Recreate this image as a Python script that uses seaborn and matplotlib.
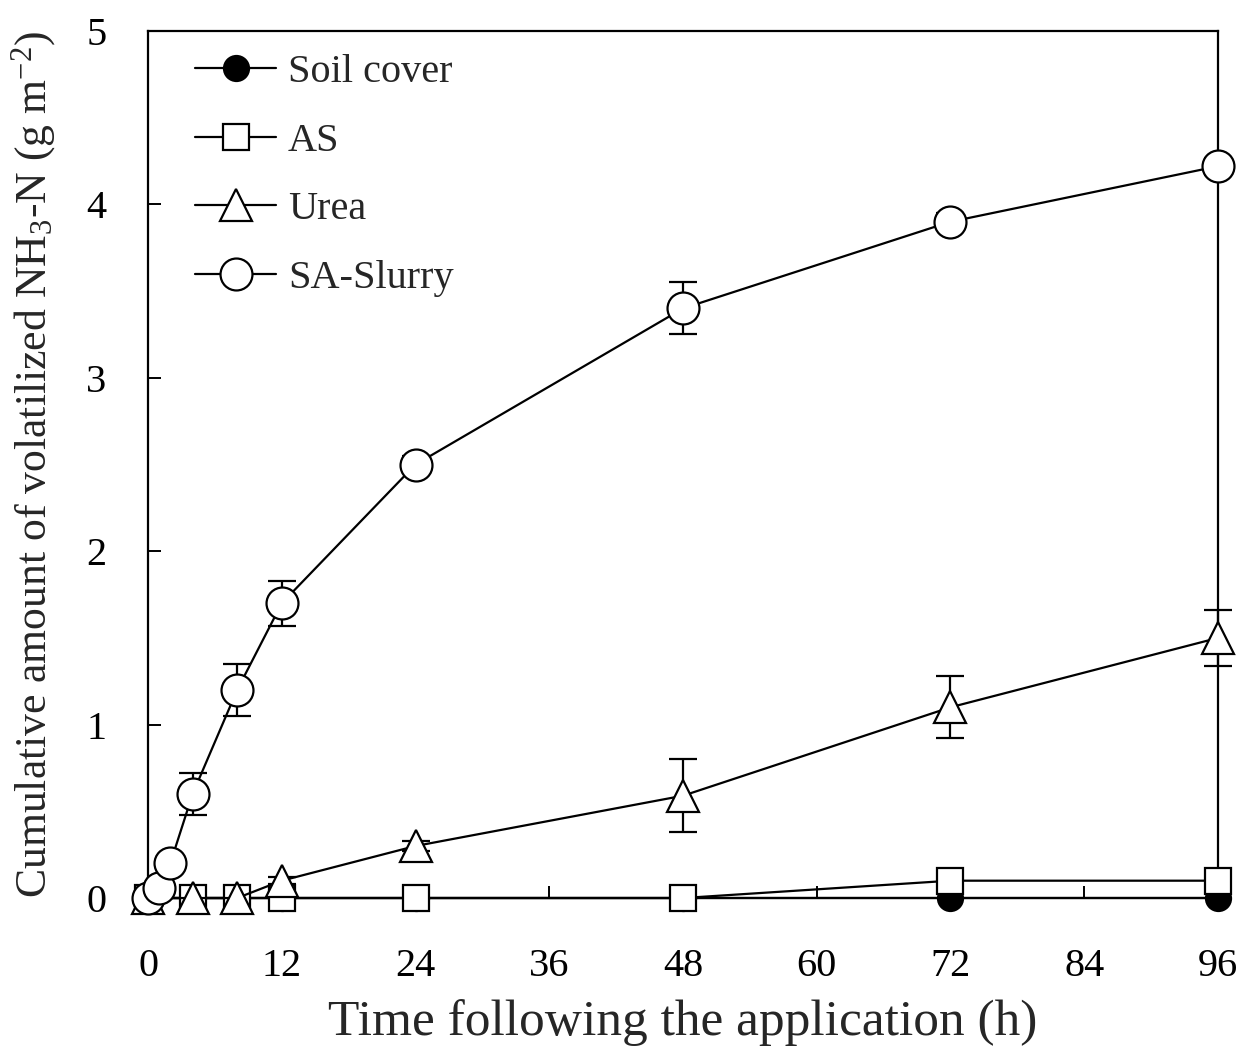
import matplotlib
matplotlib.use('Agg')
import matplotlib.pyplot as plt
import pandas as pd
import seaborn as sns

# sampling times (h)
time_main = [0, 4, 8, 12, 24, 48, 72, 96]
time_slurry = [0, 1, 2, 4, 8, 12, 24, 48, 72, 96]

# cumulative NH3-N (g m-2)
soil_cover = [0, 0, 0, 0, 0, 0, 0, 0]
ammonium_sulfate = [0, 0, 0, 0, 0, 0, 0.1, 0.1]
urea = [0, 0, 0, 0.1, 0.3, 0.59, 1.1, 1.5]
sa_slurry = [0, 0.06, 0.2, 0.6, 1.2, 1.7, 2.5, 3.4, 3.9, 4.22]

# standard errors
urea_err = [0, 0, 0, 0.02, 0.03, 0.21, 0.18, 0.16]
sa_slurry_err = [0, 0, 0, 0.12, 0.15, 0.13, 0.05, 0.15, 0.05, 0.05]

x_ticks = [0, 12, 24, 36, 48, 60, 72, 84, 96]
y_ticks = [0, 1, 2, 3, 4, 5]

sns.set_style('ticks')
plt.rcParams['font.family'] = ['Liberation Serif', 'DejaVu Serif']
plt.rcParams['mathtext.fontset'] = 'custom'
plt.rcParams['mathtext.rm'] = 'Liberation Serif'
plt.rcParams['mathtext.it'] = 'Liberation Serif:italic'

series = [
    ('Soil cover', time_main, soil_cover, 'o', 'black', 18),
    ('AS', time_main, ammonium_sulfate, 's', 'white', 19),
    ('Urea', time_main, urea, '^', 'white', 23),
    ('SA-Slurry', time_slurry, sa_slurry, 'o', 'white', 23),
]

fig = plt.figure(figsize=(12.46, 10.58), dpi=100)
ax = fig.add_axes([0.1188, 0.1512, 0.8587, 0.8195])

# error bars under the markers
ax.errorbar(time_main, urea, yerr=urea_err, fmt='none', ecolor='black',
            elinewidth=1.6, capsize=10, capthick=1.6, zorder=2, clip_on=False)
ax.errorbar(time_slurry, sa_slurry, yerr=sa_slurry_err, fmt='none', ecolor='black',
            elinewidth=1.6, capsize=10, capthick=1.6, zorder=2, clip_on=False)

for i, (name, t, vals, mk, fc, ms) in enumerate(series):
    df = pd.DataFrame({'time': t, 'value': vals})
    sns.lineplot(data=df, x='time', y='value', ax=ax, color='black', label=name,
                 marker=mk, markersize=ms, markerfacecolor=fc, markeredgecolor='black',
                 markeredgewidth=1.6, linewidth=1.6, clip_on=False, zorder=3 + i)

ax.set_xlim(0, 96)
ax.set_ylim(0, 5)
ax.set_xticks(x_ticks)
ax.set_yticks(y_ticks)
ax.tick_params(axis='both', direction='in', length=9, width=1.4, labelsize=29,
               color='black', labelcolor='black')
ax.tick_params(axis='x', pad=36)
ax.tick_params(axis='y', pad=30)
for s in ax.spines.values():
    s.set_linewidth(1.6)
    s.set_color('black')
    s.set_zorder(1)

ax.set_xlabel('Time following the application (h)', fontsize=37, labelpad=10)
ax.set_ylabel(r'Cumulative amount of volatilized NH$_3$-N (g m$^{-2}$)', fontsize=31.5, labelpad=20)

ax.legend(loc='upper left', frameon=False, fontsize=29, handlelength=2.0,
          handletextpad=0.3, labelspacing=0.78, borderaxespad=0.3,
          bbox_to_anchor=(0.018, 1.006))

fig.savefig('out.png', dpi=100)
